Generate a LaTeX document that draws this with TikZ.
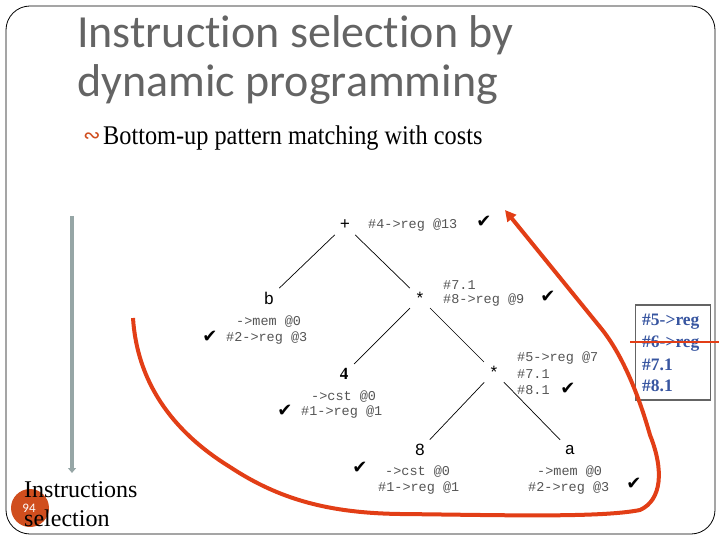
\documentclass[tikz,border=0pt]{standalone}
\usepackage{fontspec}
\setmainfont{Liberation Serif}
\newfontfamily\titlefont[Ligatures=NoCommon]{Carlito}
\newfontfamily\monofont{Liberation Mono}
\newfontfamily\symfont{DejaVu Sans}
\usetikzlibrary{arrows.meta}
\definecolor{titlegray}{RGB}{100,100,100}
\definecolor{lblgray}{RGB}{85,85,85}
\definecolor{redline}{RGB}{226,62,22}
\definecolor{arrowgray}{RGB}{150,166,166}
\definecolor{boxblue}{RGB}{55,85,160}
\definecolor{boxgray}{RGB}{100,100,100}
\definecolor{badge}{RGB}{208,78,30}
\tikzset{
  lbl/.style={font=\monofont\fontsize{13.5}{14}\selectfont, text=lblgray, anchor=west, inner sep=0pt},
  tnode/.style={circle, minimum size=28pt, inner sep=0pt, font=\monofont\fontsize{17}{18}\selectfont},
  chk/.style={font=\symfont\fontsize{18}{18}\selectfont, inner sep=0pt},
  edge/.style={draw=black, line width=0.7pt},
  boxtxt/.style={font=\fontsize{17.5}{18}\selectfont\bfseries, text=boxblue, anchor=west, inner sep=0pt},
  titletxt/.style={anchor=base west, inner sep=0pt, text=titlegray, font=\titlefont\fontsize{46}{48}\selectfont}
}
\begin{document}
\begin{tikzpicture}[x=1pt,y=-1pt]
\useasboundingbox (0,0) rectangle (720,540);
% slide border
\draw[black, line width=0.8pt, rounded corners=24pt] (6,6) rectangle (715,534);
% title
\node[titletxt] (t1) at (77,48) {Instruction selection by};
\node[titletxt] (t2) at (77,97) {dynamic programming};
% subtitle
\node[anchor=base west, inner sep=0pt, text=badge, font=\symfont\fontsize{21}{22}\selectfont] (bul) at (83,143) {∾};
\node[anchor=base west, inner sep=0pt, font=\fontsize{27}{30}\selectfont] (sub) at (103,145) {\scalebox{0.9}[1]{Bottom-up pattern matching with costs}};
% gray arrow
\coordinate (ga1) at (72,216);
\coordinate (ga2) at (72,473);
\draw[arrowgray, line width=4pt, -{Triangle[length=5pt,width=8pt]}] (ga1) -- (ga2);
% tree nodes
\node[tnode] (plus) at (345,225) {+};
\node[tnode] (b) at (269,298) {b};
\node[tnode] (s1) at (420,298) {*};
\node[tnode, font=\fontsize{17}{18}\selectfont\bfseries] (four) at (344,374) {4};
\node[tnode] (s2) at (494,372) {*};
\node[tnode] (eight) at (420,450) {8};
\node[tnode] (a) at (570,450) {a};
\path[edge] (plus) -- (b);
\path[edge] (plus) -- (s1);
\path[edge] (s1) -- (four);
\path[edge] (s1) -- (s2);
\path[edge] (s2) -- (eight);
\path[edge] (s2) -- (a);
% labels
\node[lbl] (l1) at (368,225) {\#4->reg @13};
\node[chk] (c1) at (484,222) {✔};
\node[lbl] (l2) at (443,285) {\#7.1};
\node[lbl] (l3) at (443,300) {\#8->reg @9};
\node[chk] (c2) at (548,297) {✔};
\node[lbl] (l4) at (236,322) {->mem @0};
\node[lbl] (l5) at (226,338) {\#2->reg @3};
\node[chk] (c3) at (210,337) {✔};
\node[lbl] (l6) at (311,397) {->cst @0};
\node[lbl] (l7) at (301,412) {\#1->reg @1};
\node[chk] (c4) at (285,411) {✔};
\node[lbl] (l8) at (517,358) {\#5->reg @7};
\node[lbl] (l9) at (517,374) {\#7.1};
\node[lbl] (l10) at (517,390) {\#8.1};
\node[chk] (c5) at (568,389) {✔};
\node[lbl] (l11) at (385,472) {->cst @0};
\node[lbl] (l12) at (378,488) {\#1->reg @1};
\node[chk] (c6) at (360,468) {✔};
\node[lbl] (l13) at (537,472) {->mem @0};
\node[lbl] (l14) at (528,488) {\#2->reg @3};
\node[chk] (c7) at (634,484) {✔};
% right box
\node[draw=boxgray, line width=1.6pt, minimum width=75pt, minimum height=95pt, inner sep=0pt] (box) at (673,352.5) {};
\node[boxtxt] (b1) at (642,322) {\#5->reg};
\node[boxtxt] (b2) at (642,344) {\#6->reg};
\node[boxtxt] (b3) at (642,365) {\#7.1};
\node[boxtxt] (b4) at (642,386) {\#8.1};
\coordinate (st1) at (630,342);
\coordinate (st2) at (719,342);
\draw[redline, line width=1.6pt] (st1) -- (st2);
% red curve
\coordinate (r0) at (133,318);
\coordinate (r1) at (230,467);
\coordinate (r2) at (400,514);
\coordinate (r3) at (640,510);
\coordinate (r4) at (650,435);
\coordinate (r5) at (600,327);
\coordinate (rtip) at (505,210);
\draw[redline, line width=4pt, -{Triangle[length=11pt,width=11pt]}]
  (r0) .. controls (137,380) and (170,430) .. (r1)
       .. controls (280,500) and (330,513) .. (r2)
       .. controls (500,515) and (600,518) .. (r3)
       .. controls (662,500) and (664,470) .. (r4)
       .. controls (640,400) and (624,356) .. (r5)
       -- (rtip);
% badge
\node[circle, fill=badge, minimum size=38pt, inner sep=0pt] (bd) at (30,508) {};
\node[text=white, font=\titlefont\fontsize{13}{13}\selectfont, inner sep=0pt] (bdn) at (29,508) {94};
\node[anchor=base west, inner sep=0pt, font=\fontsize{24}{26}\selectfont] (ins1) at (24,497) {Instructions};
\node[anchor=base west, inner sep=0pt, font=\fontsize{24}{26}\selectfont] (ins2) at (24,526) {selection};
\end{tikzpicture}
\end{document}
